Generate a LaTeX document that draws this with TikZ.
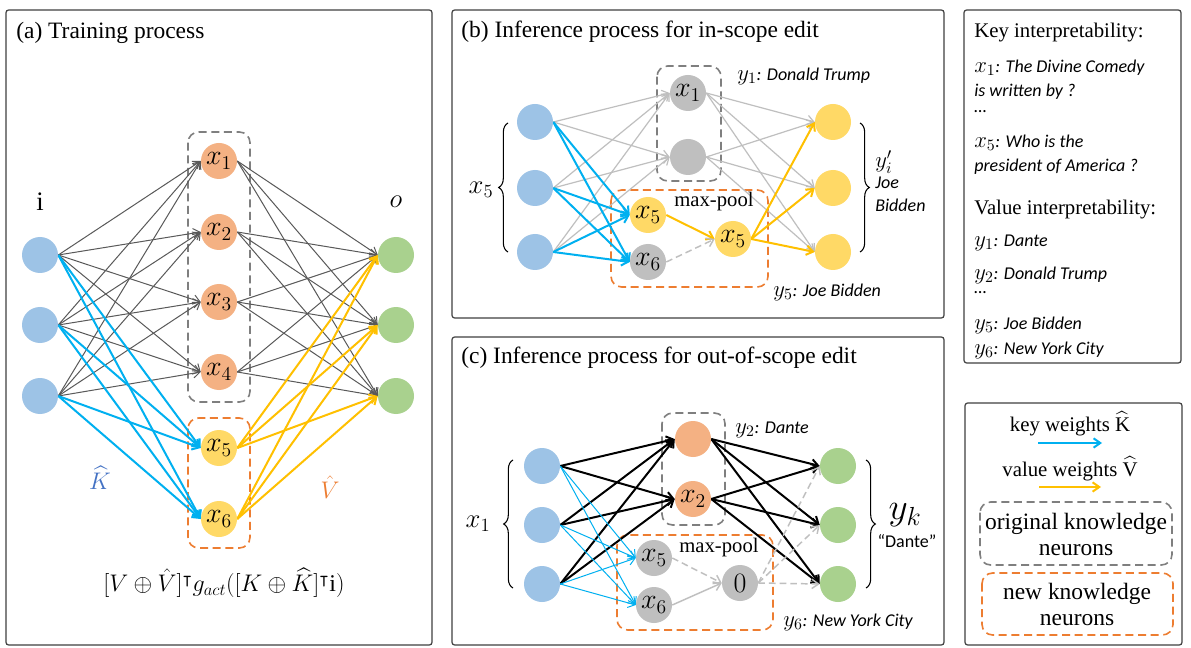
\RequirePackage{fix-cm}
\documentclass[tikz,border=0pt]{standalone}
\usepackage{amssymb}
\usepackage{fontspec}
\setmainfont{Liberation Serif}
\newfontfamily\calib{Carlito}
\usetikzlibrary{arrows.meta,decorations.pathreplacing}
\definecolor{nblue}{HTML}{9DC3E6}
\definecolor{norange}{HTML}{F4B183}
\definecolor{nyellow}{HTML}{FFD966}
\definecolor{ngreen}{HTML}{A9D18E}
\definecolor{ngray}{HTML}{BFBFBF}
\definecolor{ablue}{HTML}{00B0F0}
\definecolor{agold}{HTML}{FFC000}
\definecolor{adark}{HTML}{595959}
\definecolor{alight}{HTML}{BFBFBF}
\definecolor{dorange}{HTML}{ED7D31}
\definecolor{dgray}{HTML}{7F7F7F}
\definecolor{khat}{HTML}{4472C4}
\pgfdeclarelayer{back}
\pgfdeclarelayer{mid}
\pgfsetlayers{back,mid,main}
\newcommand{\annm}[1]{{\fontsize{17}{17}\selectfont$#1$}}
\tikzset{
  neuron/.style={circle, minimum size=27pt, inner sep=0pt, font=\fontsize{21}{21}\selectfont},
  arr/.style={-{Straight Barb[length=5pt,width=7pt]}},
  grayE/.style={arr, draw=adark, line width=0.75pt},
  lightE/.style={arr, draw=alight, line width=0.9pt},
  blueT/.style={arr, draw=ablue, line width=1.5pt},
  goldT/.style={arr, draw=agold, line width=1.5pt},
  blackT/.style={arr, draw=black, line width=1.5pt},
  blueS/.style={arr, draw=ablue, line width=0.75pt},
  dashE/.style={arr, draw=alight, line width=1.1pt, dash pattern=on 5pt off 3pt},
  panel/.style={draw=black!75, line width=0.9pt, rounded corners=2pt},
  gbox/.style={draw=dgray, line width=1.2pt, dash pattern=on 6pt off 3.5pt, rounded corners=8pt},
  obox/.style={draw=dorange, line width=1.2pt, dash pattern=on 6pt off 3.5pt, rounded corners=8pt},
  ttl/.style={anchor=west, font=\fontsize{17.6}{20}\selectfont, inner sep=0pt},
  ann/.style={anchor=west, font=\fontsize{13.5}{16}\calib\itshape, inner sep=0pt},
  serif/.style={font=\fontsize{15.6}{18}\selectfont, inner sep=0pt},
  legtxt/.style={align=center, font=\fontsize{17.6}{19.5}\selectfont, inner sep=0pt},
  brc/.style={decorate, decoration={brace, amplitude=7pt}, line width=0.8pt},
}
\begin{document}
\begin{tikzpicture}[x=0.75pt,y=-0.75pt]
\useasboundingbox (0,0) rectangle (1191,648);
\begin{pgfonlayer}{back}
\fill[white] (0,0) rectangle (1191,648);
\end{pgfonlayer}

% ---------------- panel (a)
\begin{pgfonlayer}{back}
\draw[panel] (6,10) rectangle (432,645);
\draw[gbox] (188,132) rectangle (250,402);
\draw[obox] (188,418) rectangle (250,548);
\end{pgfonlayer}
\node[ttl] (ta) at (16,33) {(a) Training process};
\foreach \y [count=\k] in {255,325,396} \node[neuron,fill=nblue] (ai\k) at (40,\y) {};
\foreach \y [count=\k] in {255,325,396} \node[neuron,fill=ngreen] (ao\k) at (396,\y) {};
\foreach \y [count=\k] in {161,232,302,372} \node[neuron,fill=norange] (ah\k) at (219,\y) {$x_{\k}$};
\node[neuron,fill=nyellow] (ah5) at (219,448) {$x_5$};
\node[neuron,fill=nyellow] (ah6) at (219,519) {$x_6$};
\begin{pgfonlayer}{mid}
\foreach \i in {1,2,3} \foreach \h in {1,...,4} \draw[grayE] (ai\i.east) -- (ah\h.west);
\foreach \h in {1,...,4} \foreach \o in {1,2,3} \draw[grayE] (ah\h.east) -- (ao\o.west);
\foreach \i in {1,2,3} \foreach \h in {5,6} \draw[blueT] (ai\i.east) -- (ah\h.west);
\foreach \h in {5,6} \foreach \o in {1,2,3} \draw[goldT] (ah\h.east) -- (ao\o.west);
\end{pgfonlayer}
\node[font=\fontsize{20}{20}\selectfont] (li) at (40,202) {i};
\node[font=\fontsize{20}{20}\selectfont] (lo) at (396,202) {$o$};
\node[font=\fontsize{18}{18}\selectfont, text=khat] (lk) at (100,478) {$\widehat{K}$};
\node[font=\fontsize{18}{18}\selectfont, text=dorange] (lv) at (330,487) {$\hat{V}$};
\node[font=\fontsize{18}{18}\selectfont] (fa) at (224,583) {$[V\oplus\hat{V}]^{\intercal}g_{act}([K\oplus\widehat{K}]^{\intercal}\mathrm{i})$};

% ---------------- panel (b)
\begin{pgfonlayer}{back}
\draw[panel] (452,10) rectangle (944,318);
\draw[gbox] (657,66) rectangle (721,181);
\draw[obox] (611,190) rectangle (768,287);
\end{pgfonlayer}
\node[ttl] (tb) at (461,32) {(b) Inference process for in-scope edit};
\foreach \y [count=\k] in {122,188,252} \node[neuron,fill=nblue] (bi\k) at (535,\y) {};
\foreach \y [count=\k] in {122,188,252} \node[neuron,fill=nyellow] (bo\k) at (833,\y) {};
\node[neuron,fill=ngray] (bh1) at (688,93) {$x_1$};
\node[neuron,fill=ngray] (bh2) at (688,157) {};
\node[neuron,fill=nyellow] (bn5) at (648,215) {$x_5$};
\node[neuron,fill=ngray] (bn6) at (648,262) {$x_6$};
\node[neuron,fill=nyellow] (bp) at (733,239) {$x_5$};
\begin{pgfonlayer}{mid}
\foreach \i in {1,2,3} \foreach \h in {1,2} \draw[lightE] (bi\i.east) -- (bh\h.west);
\foreach \h in {1,2} \foreach \o in {1,2,3} \draw[lightE] (bh\h.east) -- (bo\o.west);
\foreach \i in {1,2,3} \foreach \h in {5,6} \draw[blueT] (bi\i.east) -- (bn\h.west);
\draw[goldT] (bn5.east) -- (bp.west);
\draw[dashE] (bn6.east) -- (bp.west);
\foreach \o in {1,2,3} \draw[goldT] (bp.east) -- (bo\o.west);
\end{pgfonlayer}
\node[font=\fontsize{15.5}{16}\selectfont] (mpb) at (714,202) {max-pool};
\node[ann] (y1b) at (737,76) {\annm{y_1}: Donald Trump};
\node[ann] (y5b) at (773,292) {\annm{y_5}: Joe Bidden};
\draw[brc] (508,252) -- (508,123);
\node[font=\fontsize{20}{20}\selectfont] (x5b) at (481,190) {$x_5$};
\draw[brc] (860,123) -- (860,252);
\node[anchor=west, inner sep=0pt] (yib) at (875,162) {\annm{y'_i}};
\node[ann] (joe) at (875,183) {Joe};
\node[ann] (bid) at (875,205) {Bidden};

% ---------------- panel (c)
\begin{pgfonlayer}{back}
\draw[panel] (452,337) rectangle (944,645);
\draw[gbox] (662,413) rectangle (725,525);
\draw[obox] (617,535) rectangle (773,630);
\end{pgfonlayer}
\node[ttl] (tc) at (461,358) {(c) Inference process for out-of-scope edit};
\foreach \y [count=\k] in {466,525,584} \node[neuron,fill=nblue] (ci\k) at (542,\y) {};
\foreach \y [count=\k] in {466,525,584} \node[neuron,fill=ngreen] (co\k) at (838,\y) {};
\node[neuron,fill=norange] (ch1) at (693,439) {};
\node[neuron,fill=norange] (ch2) at (693,499) {$x_2$};
\node[neuron,fill=ngray] (cn5) at (654,558) {$x_5$};
\node[neuron,fill=ngray] (cn6) at (654,605) {$x_6$};
\node[neuron,fill=ngray] (cz) at (740,583) {$0$};
\begin{pgfonlayer}{mid}
\foreach \i in {1,2,3} \foreach \h in {1,2} \draw[blackT] (ci\i.east) -- (ch\h.west);
\foreach \h in {1,2} \foreach \o in {1,2,3} \draw[blackT] (ch\h.east) -- (co\o.west);
\foreach \i in {1,2,3} \foreach \h in {5,6} \draw[blueS] (ci\i.east) -- (cn\h.west);
\draw[dashE] (cn5.east) -- (cz.west);
\draw[arr, draw=alight, line width=1.1pt] (cn6.east) -- (cz.west);
\foreach \o in {1,2,3} \draw[dashE] (cz.east) -- (co\o.west);
\end{pgfonlayer}
\node[font=\fontsize{15.5}{16}\selectfont] (mpc) at (719,548) {max-pool};
\node[ann] (y2c) at (735,430) {\annm{y_2}: Dante};
\node[ann] (y6c) at (783,622) {\annm{y_6}: New York City};
\draw[brc] (513,588) -- (513,460);
\node[font=\fontsize{20}{20}\selectfont] (x1c) at (478,524) {$x_1$};
\draw[brc] (866,460) -- (866,588);
\node[font=\fontsize{28}{28}\selectfont] (ykc) at (905,515) {$y_k$};
\node[font=\fontsize{13.5}{16}\calib] (dnc) at (907,541) {“Dante”};

% ---------------- key / value interpretability
\begin{pgfonlayer}{back}
\draw[panel] (964,10) rectangle (1181,363);
\end{pgfonlayer}
\node[serif, anchor=west] (kt) at (974,33) {Key interpretability:};
\node[ann] (k1) at (974,68) {\annm{x_1}: The Divine Comedy};
\node[ann] (k2) at (974,92) {is written by ?};
\node[ann] (k3) at (974,112) {\ldots};
\node[ann] (k4) at (974,143) {\annm{x_5}: Who is the};
\node[ann] (k5) at (974,167) {president of America ?};
\node[serif, anchor=west] (vt) at (974,210) {Value interpretability:};
\node[ann] (v1) at (974,243) {\annm{y_1}: Dante};
\node[ann] (v2) at (974,275) {\annm{y_2}: Donald Trump};
\node[ann] (v3) at (974,293) {\ldots};
\node[ann] (v4) at (974,325) {\annm{y_5}: Joe Bidden};
\node[ann] (v5) at (974,350) {\annm{y_6}: New York City};

% ---------------- legend
\begin{pgfonlayer}{back}
\draw[panel] (965,403) rectangle (1182,645);
\draw[gbox] (980,502) rectangle (1172,565);
\draw[obox] (982,573) rectangle (1173,635);
\end{pgfonlayer}
\node[serif] (kw) at (1070,424) {key weights $\widehat{\mathrm{K}}$};
\coordinate (kb1) at (1038,443);
\coordinate (kb2) at (1102,443);
\draw[blueT] (kb1) -- (kb2);
\node[serif] (vw) at (1070,469) {value weights $\widehat{\mathrm{V}}$};
\coordinate (vb1) at (1039,487);
\coordinate (vb2) at (1101,487);
\draw[goldT] (vb1) -- (vb2);
\node[legtxt] (okn) at (1076,534) {original knowledge\\neurons};
\node[legtxt] (nkn) at (1077,604) {new knowledge\\neurons};
\end{tikzpicture}
\end{document}
